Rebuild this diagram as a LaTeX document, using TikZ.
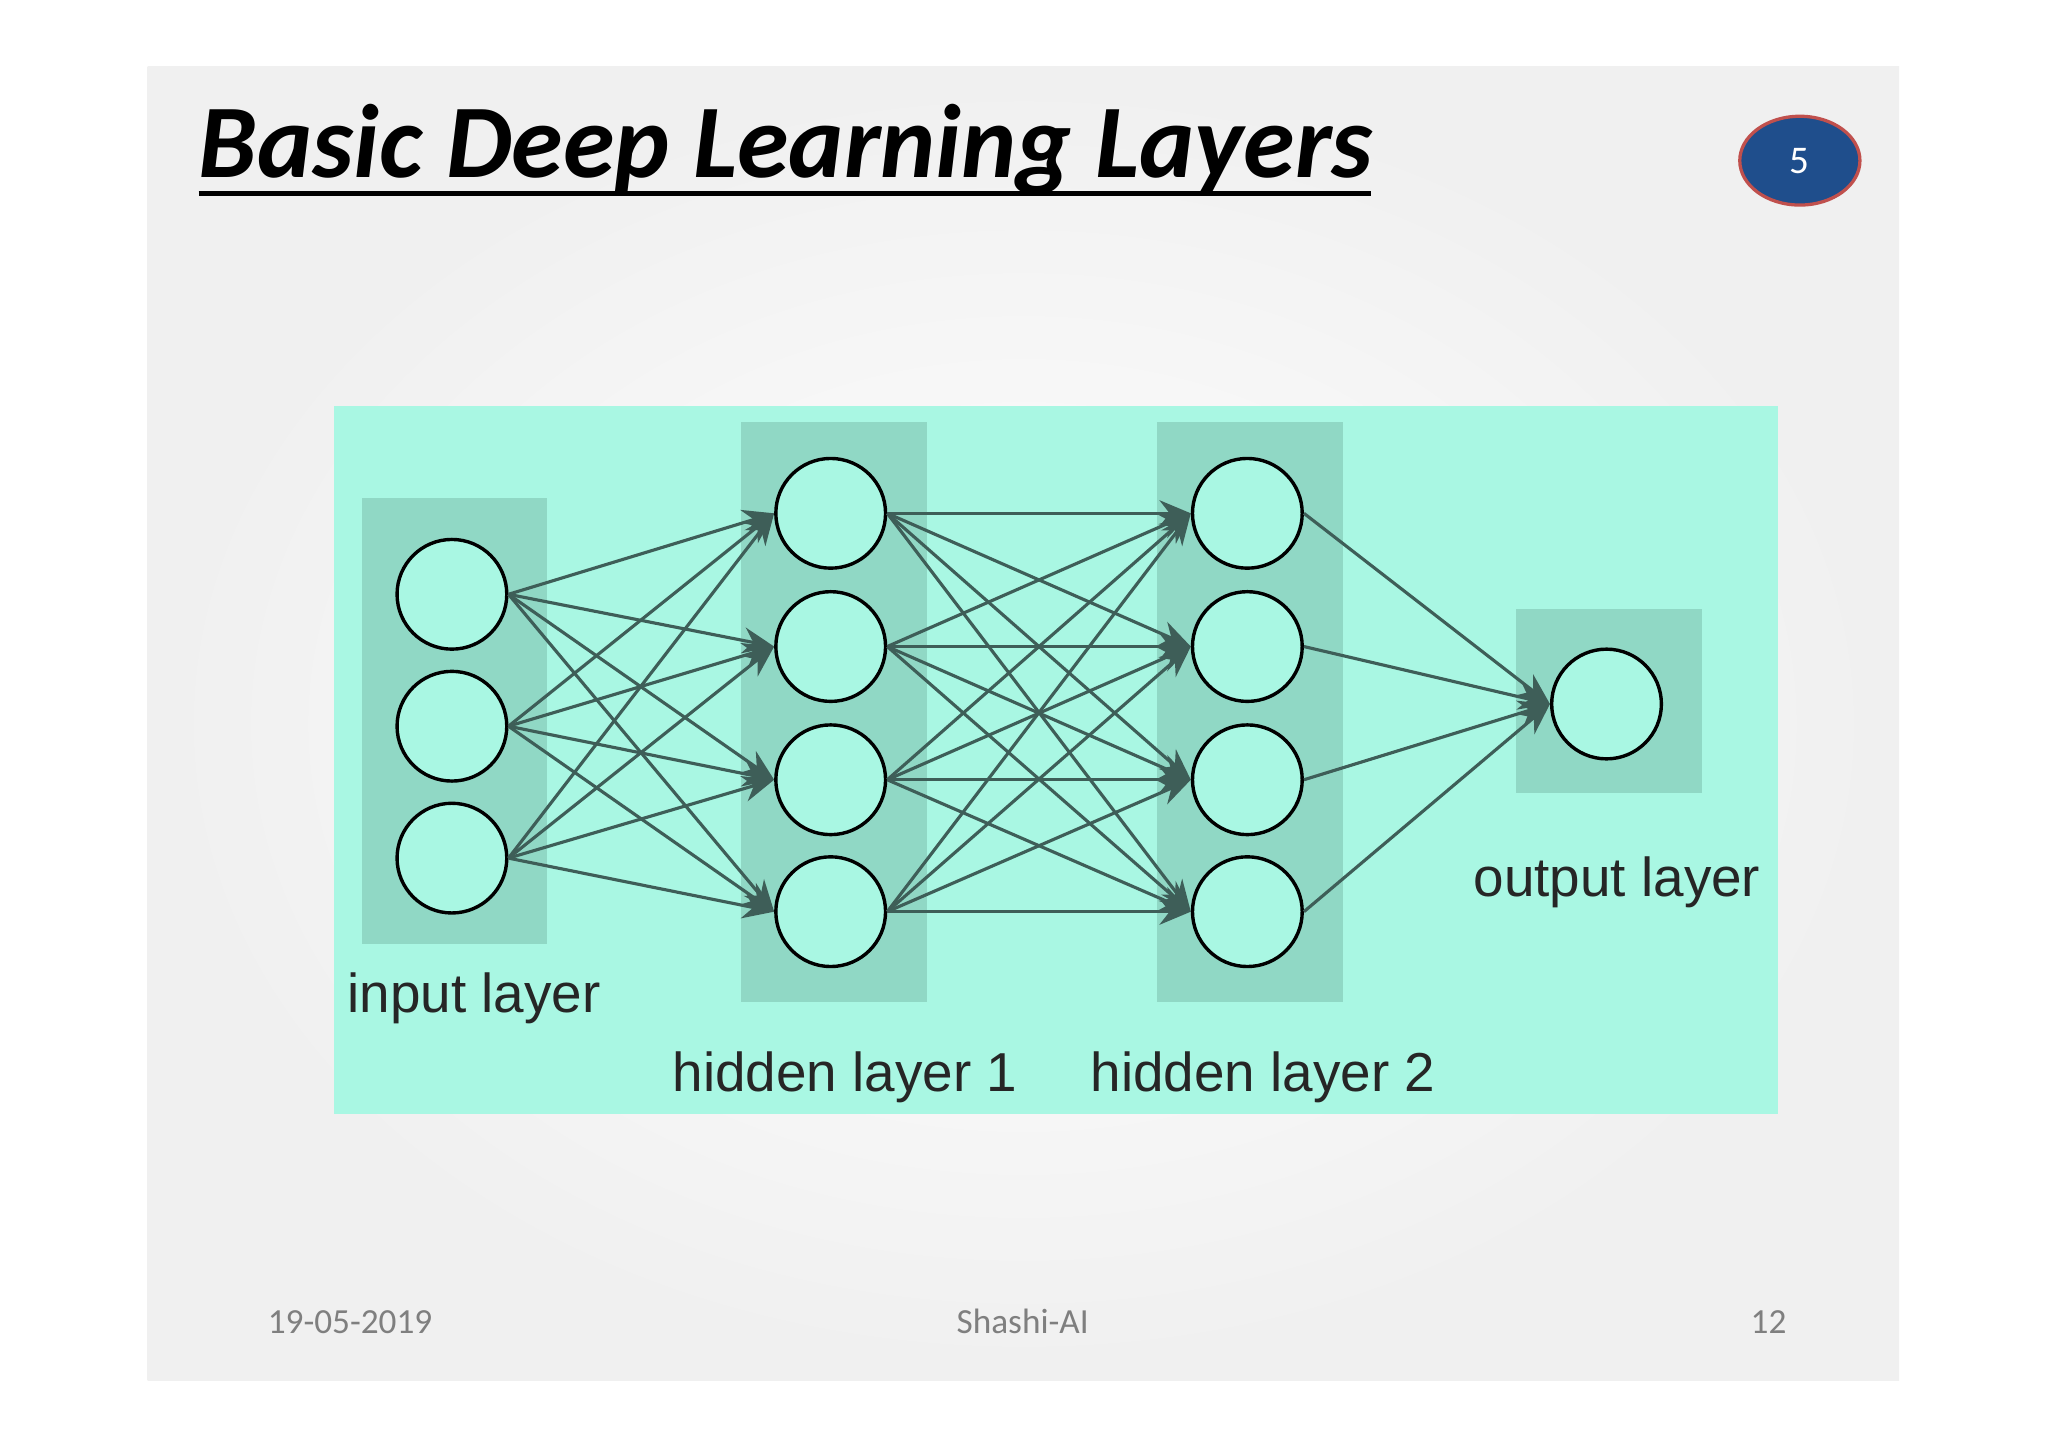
\documentclass[tikz,border=0pt]{standalone}
\usepackage{fontspec}
\setmainfont{Carlito}
\newfontfamily\arialf{Liberation Sans}
\usetikzlibrary{arrows.meta,shapes.geometric}
\definecolor{aqua}{HTML}{A9F7E3}
\definecolor{boxc}{HTML}{90D8C5}
\definecolor{edgec}{HTML}{3E5E58}
\definecolor{blueb}{HTML}{1F4E8C}
\definecolor{redb}{HTML}{C0504D}
\definecolor{footc}{HTML}{7F7F7F}
\begin{document}
\begin{tikzpicture}[x=1pt,y=-1pt,
  neuron/.style={circle,draw=black,line width=2.6pt,fill=aqua,minimum size=84pt,inner sep=0pt},
  conn/.style={draw=edgec,line width=2.4pt,-{Stealth[length=24pt,width=20pt]}},
  lbl/.style={font=\arialf\fontsize{42}{46}\selectfont,text=black!85,inner sep=0pt},
  foot/.style={font=\fontsize{27}{30}\selectfont,text=footc,inner sep=0pt}]
\useasboundingbox (0,0) rectangle (1568,1108);
\fill[white] (0,0) rectangle (1568,1108);
\shade[inner color=white,outer color=black!6,shading=radial] (113,51) rectangle (1454,1057);
\node[anchor=base west,inner sep=0pt,font=\bfseries\itshape\fontsize{80}{86}\selectfont] (title) at (152,136) {Basic Deep Learning Layers};
\draw[line width=3.5pt] (152,148) -- (1050,148);
\node[ellipse,draw=redb,line width=2.5pt,fill=blueb,minimum width=92pt,minimum height=68pt,text=white,font=\fontsize{30}{32}\selectfont] (pg) at (1378,123) {5};
\fill[aqua] (256,311) rectangle (1361,853);
\fill[boxc] (277,381) rectangle (419,723);
\fill[boxc] (567,323) rectangle (710,767);
\fill[boxc] (886,323) rectangle (1028,767);
\fill[boxc] (1161,466) rectangle (1303,607);
\foreach \i/\y in {1/455,2/556,3/657} \node[neuron] (a\i) at (346,\y) {};
\foreach \i/\y in {1/393,2/495,3/597,4/698} {
  \node[neuron] (b\i) at (636,\y) {};
  \node[neuron] (c\i) at (955,\y) {};}
\node[neuron] (d1) at (1230,539) {};
\foreach \i in {1,2,3} \foreach \j in {1,2,3,4} \draw[conn] (a\i.east) -- (b\j.west);
\foreach \i in {1,2,3,4} \foreach \j in {1,2,3,4} \draw[conn] (b\i.east) -- (c\j.west);
\foreach \i in {1,2,3,4} \draw[conn] (c\i.east) -- (d1.west);
\node[lbl,anchor=base] (l1) at (363,775) {input layer};
\node[lbl,anchor=base] (l2) at (647,836) {hidden layer 1};
\node[lbl,anchor=base] (l3) at (967,836) {hidden layer 2};
\node[lbl,anchor=base] (l4) at (1238,686) {output layer};
\node[foot,anchor=base] (f1) at (268,1021) {19-05-2019};
\node[foot,anchor=base] (f2) at (783,1021) {Shashi-AI};
\node[foot,anchor=base] (f3) at (1354,1021) {12};
\end{tikzpicture}
\end{document}
